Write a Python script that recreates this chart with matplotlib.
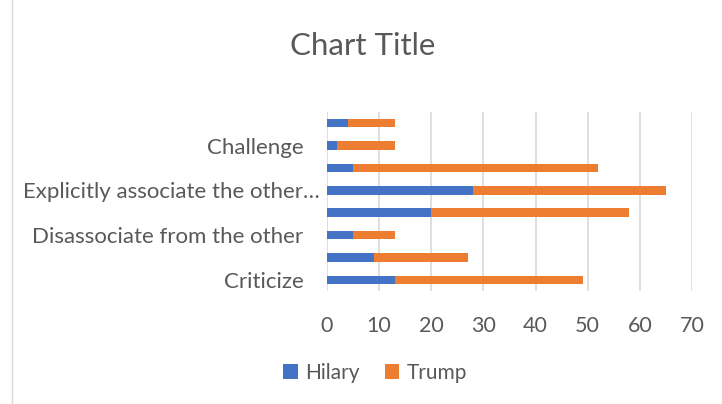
import matplotlib.pyplot as plt
import matplotlib.transforms as mtransforms
from matplotlib.patches import Rectangle

plt.rcParams['font.family'] = ['Lato', 'DejaVu Sans']

categories = ["Criticize", "", "Disassociate from the other", "",
              "Explicitly associate the other\u2026", "", "Challenge", ""]
hilary = [13, 9, 5, 20, 28, 5, 2, 4]
trump = [36, 18, 8, 38, 37, 47, 11, 9]
xticks = [0, 10, 20, 30, 40, 50, 60, 70]

text_col = '#595959'
fig = plt.figure(figsize=(7.22, 4.04), dpi=100)
ax = fig.add_axes([327/722, 1 - 291/404, 365/722, 179/404])

pos = range(len(categories))
ax.barh(pos, hilary, height=0.38, color='#4472C4', label='Hilary', zorder=3)
ax.barh(pos, trump, left=hilary, height=0.38, color='#ED7D31', label='Trump', zorder=3)

ax.set_xlim(0, 70)
ax.set_ylim(-0.5, len(categories) - 0.5)
ax.set_xticks(xticks)
ax.set_yticks(list(pos))
ax.set_yticklabels(categories)
ax.tick_params(axis='both', length=0, colors=text_col)
ax.tick_params(axis='x', pad=18, labelsize=15.5)
ax.tick_params(axis='y', pad=17, labelsize=16)
ax.grid(axis='x', color='#d9d9d9', linewidth=1.2, zorder=0)
for s in ax.spines.values():
    s.set_visible(False)

# the truncated label sits closer to the axis, like in Excel
lbl = ax.get_yticklabels()[4]
lbl.set_transform(lbl.get_transform() +
                  mtransforms.ScaledTranslation(0.16, 0, fig.dpi_scale_trans))

fig.text(363/722, 1 - 46/404, 'Chart Title', ha='center', va='center',
         fontsize=22.5, color=text_col)

fig.legend(loc='center', bbox_to_anchor=(375/722, 1 - 373/404), ncol=2,
           frameon=False, fontsize=15, labelcolor=text_col,
           handlelength=0.7, handleheight=0.7, handletextpad=0.35, columnspacing=1.2)

fig.patches.append(Rectangle((12/722, -0.01), 1, 1.02, transform=fig.transFigure,
                             fill=False, edgecolor='#d9d9d9', linewidth=1))

fig.savefig('out.png', dpi=100)
